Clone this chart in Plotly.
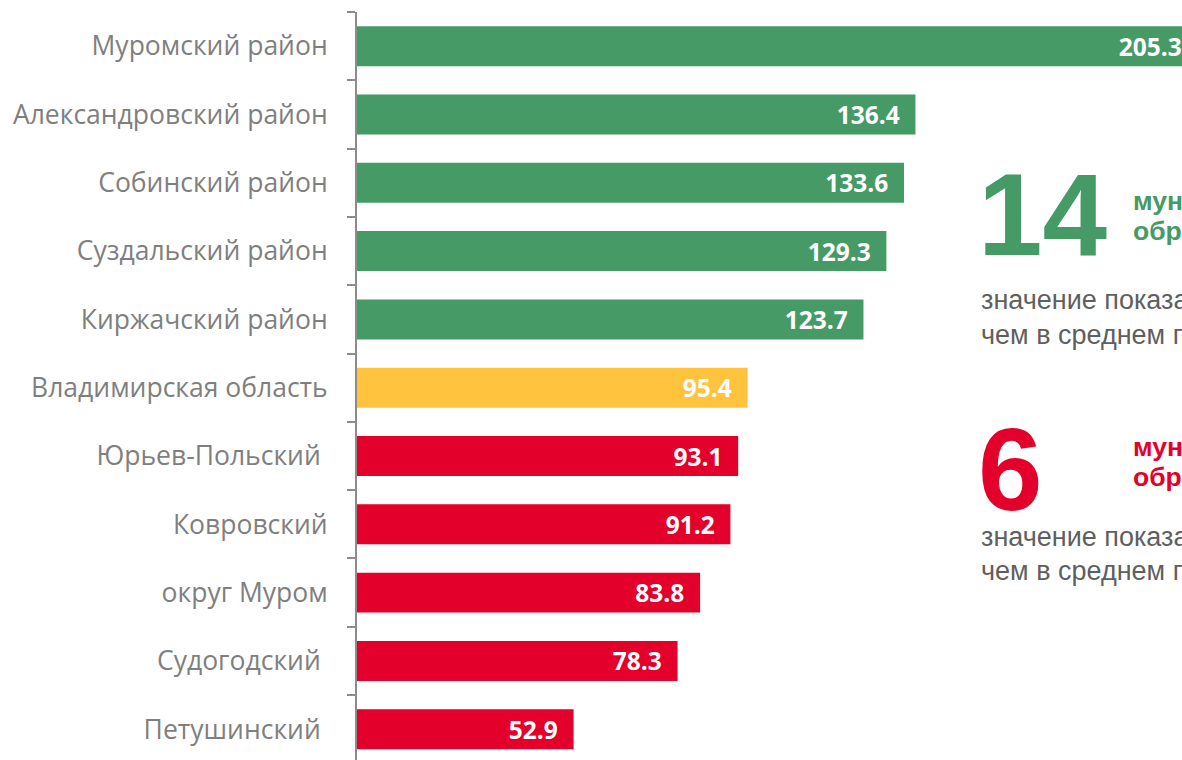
import plotly.graph_objects as go

categories = ["Муромский район", "Александровский район", "Собинский район",
              "Суздальский район", "Киржачский район", "Владимирская область",
              "Юрьев-Польский ", "Ковровский", "округ Муром", "Судогодский ",
              "Петушинский "]
values = [205.3, 136.4, 133.6, 129.3, 123.7, 95.4, 93.1, 91.2, 83.8, 78.3, 52.9]
groups = ["above"] * 5 + ["region"] + ["below"] * 5

color_map = {"above": "#469A66", "region": "#FFC33D", "below": "#E3002B"}

cats_r = categories[::-1]
vals_r = values[::-1]
cols_r = [color_map[g] for g in groups[::-1]]
texts_r = [f"{v:.1f}\u00a0\u00a0" for v in vals_r]

W, H = 1182, 760
L, T = 357, 12
PW, PH = W - L, H - T

fig = go.Figure(go.Bar(
    y=cats_r, x=vals_r, orientation="h",
    marker=dict(color=cols_r, line=dict(width=0)),
    text=texts_r, textposition="inside", insidetextanchor="end",
    textangle=0, constraintext="none",
    textfont=dict(family="Open Sans", size=24.5, color="white", weight="bold"),
    cliponaxis=True, hoverinfo="skip",
))

def px2paper(x, y):
    return (x - L) / PW, (H - y) / PH

anns = []
def add(text, x, y, size, color, bold=False, family="Liberation Sans"):
    px, py = px2paper(x, y)
    anns.append(dict(text=f"<b>{text}</b>" if bold else text, x=px, y=py,
                     xref="paper", yref="paper", xanchor="left", yanchor="middle",
                     showarrow=False, align="left",
                     font=dict(family=family, size=size, color=color)))

green, red, gray = "#469A66", "#E3002B", "#5F5F5F"
add("14", 976, 215, 116, green, bold=True)
add("муниципальных", 1131, 201, 26.5, green, bold=True)
add("образований", 1131, 231, 26.5, green, bold=True)
add("значение показателя выше,", 979, 300, 27, gray)
add("чем в среднем по области", 979, 335, 27, gray)
add("6", 976, 470, 116, red, bold=True)
add("муниципальных", 1131, 447, 26.5, red, bold=True)
add("образований", 1131, 477, 26.5, red, bold=True)
add("значение показателя ниже,", 979, 537, 27, gray)
add("чем в среднем по области", 979, 571, 27, gray)

fig.update_layout(
    width=W, height=H,
    margin=dict(l=L, r=0, t=T, b=0, pad=0),
    plot_bgcolor="white", paper_bgcolor="white",
    bargap=0.415, showlegend=False,
    annotations=anns,
    xaxis=dict(range=[0, 201.5], visible=False, fixedrange=True),
    yaxis=dict(type="category", categoryorder="array", categoryarray=cats_r,
               range=[-0.45, 10.5], showline=True, linecolor="#8C8C8C",
               linewidth=2, ticks="outside", tickson="boundaries",
               ticklen=8, tickcolor="#8C8C8C", tickwidth=2,
               showgrid=False, zeroline=False, fixedrange=True,
               ticklabelstandoff=22,
               tickfont=dict(family="Open Sans", size=26.5, color="#7F7F7F")),
)

fig.write_html("out.html", config={"displayModeBar": False},
               post_script="document.body.style.margin='0px';document.body.style.overflow='hidden';")
